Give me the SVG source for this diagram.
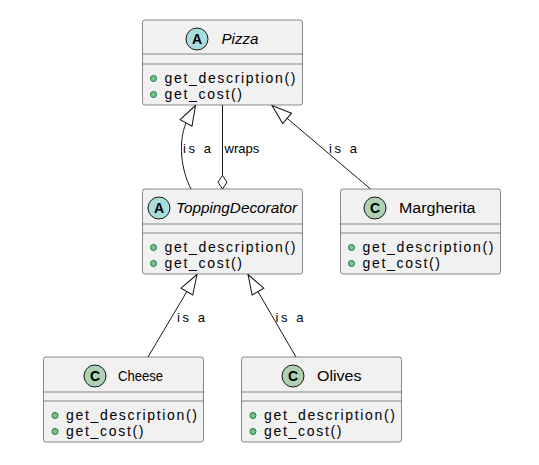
<svg xmlns="http://www.w3.org/2000/svg" width="539" height="465" viewBox="0 0 539 465">
<style>
.box{fill:#F1F1F1;stroke:#181818;stroke-width:0.5;}
.sep{stroke:#181818;stroke-width:0.5;fill:none;}
.name{font-family:"Liberation Sans",Arial,sans-serif;font-size:14px;fill:#000;}
.it{font-style:italic;}
.mem{font-family:"Liberation Sans",Arial,sans-serif;font-size:14px;fill:#000;}
.lbl{font-family:"Liberation Sans",Arial,sans-serif;font-size:13px;fill:#000;}
.bul{fill:#84BE84;stroke:#038048;stroke-width:1;}
.ca{fill:#A9DCDF;stroke:#181818;stroke-width:1;}
.cc{fill:#ADD1B2;stroke:#181818;stroke-width:1;}
.ltr{font-family:"Liberation Sans",Arial,sans-serif;font-size:14px;font-weight:bold;fill:#000;}
.edge{stroke:#181818;stroke-width:1;fill:none;}
</style>
<defs>
<marker id="ext" markerUnits="userSpaceOnUse" markerWidth="24" markerHeight="20" viewBox="-21 -9 23 18" refX="0" refY="0" orient="auto">
<path d="M0,0 L-19,-6.5 L-19,6.5 Z" fill="#FFFFFF" stroke="#181818" stroke-width="1"/>
</marker>
</defs>

<g id="connectors">
<path class="edge" d="M191,189 C181,170 178,142 186,123 L195.5,105.5" marker-end="url(#ext)"/>
<line class="edge" x1="222.5" y1="105" x2="222.5" y2="175.5"/>
<polygon points="222.5,175.5 227,182.2 222.5,189 218,182.2" fill="#FFFFFF" stroke="#181818" stroke-width="1"/>
<line class="edge" x1="370.5" y1="189" x2="272" y2="105.5" marker-end="url(#ext)"/>
<line class="edge" x1="148" y1="357" x2="197" y2="274.5" marker-end="url(#ext)"/>
<line class="edge" x1="296" y1="357" x2="248" y2="274.5" marker-end="url(#ext)"/>
<text class="lbl" x="183" y="153" textLength="28" lengthAdjust="spacing">is  a</text>
<text class="lbl" x="224.5" y="153">wraps</text>
<text class="lbl" x="329" y="153" textLength="28" lengthAdjust="spacing">is  a</text>
<text class="lbl" x="177" y="322" textLength="28" lengthAdjust="spacing">is  a</text>
<text class="lbl" x="275.5" y="322" textLength="28" lengthAdjust="spacing">is  a</text>
</g>

<g id="Pizza">
<rect class="box" x="142.5" y="20" width="160" height="85" rx="2.5"/>
<line class="sep" x1="142.5" y1="54" x2="302.5" y2="54"/>
<line class="sep" x1="142.5" y1="64" x2="302.5" y2="64"/>
<circle class="ca" cx="197" cy="39" r="11"/>
<text class="ltr" x="197" y="44" text-anchor="middle">A</text>
<text class="name it" x="221.5" y="44" textLength="37" lengthAdjust="spacingAndGlyphs">Pizza</text>
<circle class="bul" cx="153.5" cy="78.5" r="3"/>
<text class="mem" x="164.5" y="83" textLength="131" lengthAdjust="spacing">get_description()</text>
<circle class="bul" cx="153.5" cy="94.5" r="3"/>
<text class="mem" x="164.5" y="99" textLength="77.5" lengthAdjust="spacing">get_cost()</text>
</g>

<g id="ToppingDecorator">
<rect class="box" x="142.5" y="189" width="160" height="85" rx="2.5"/>
<line class="sep" x1="142.5" y1="224" x2="302.5" y2="224"/>
<line class="sep" x1="142.5" y1="233" x2="302.5" y2="233"/>
<circle class="ca" cx="159" cy="208" r="11"/>
<text class="ltr" x="159" y="213" text-anchor="middle">A</text>
<text class="name it" x="176" y="213" textLength="121" lengthAdjust="spacingAndGlyphs">ToppingDecorator</text>
<circle class="bul" cx="153.5" cy="247.5" r="3"/>
<text class="mem" x="164.5" y="252" textLength="131" lengthAdjust="spacing">get_description()</text>
<circle class="bul" cx="153.5" cy="263.5" r="3"/>
<text class="mem" x="164.5" y="268" textLength="77.5" lengthAdjust="spacing">get_cost()</text>
</g>

<g id="Margherita">
<rect class="box" x="340.5" y="189" width="160" height="85" rx="2.5"/>
<line class="sep" x1="340.5" y1="224" x2="500.5" y2="224"/>
<line class="sep" x1="340.5" y1="233" x2="500.5" y2="233"/>
<circle class="cc" cx="375" cy="208" r="11"/>
<text class="ltr" x="375" y="213" text-anchor="middle">C</text>
<text class="name" x="399" y="213" textLength="76.5" lengthAdjust="spacingAndGlyphs">Margherita</text>
<circle class="bul" cx="351.5" cy="247.5" r="3"/>
<text class="mem" x="362.5" y="252" textLength="131" lengthAdjust="spacing">get_description()</text>
<circle class="bul" cx="351.5" cy="263.5" r="3"/>
<text class="mem" x="362.5" y="268" textLength="77.5" lengthAdjust="spacing">get_cost()</text>
</g>

<g id="Cheese">
<rect class="box" x="43.5" y="357" width="160" height="85" rx="2.5"/>
<line class="sep" x1="43.5" y1="392" x2="203.5" y2="392"/>
<line class="sep" x1="43.5" y1="401" x2="203.5" y2="401"/>
<circle class="cc" cx="95" cy="376" r="11"/>
<text class="ltr" x="95" y="381" text-anchor="middle">C</text>
<text class="name" x="118" y="381" textLength="45" lengthAdjust="spacingAndGlyphs">Cheese</text>
<circle class="bul" cx="55" cy="415.5" r="3"/>
<text class="mem" x="66" y="420" textLength="131" lengthAdjust="spacing">get_description()</text>
<circle class="bul" cx="55" cy="431.5" r="3"/>
<text class="mem" x="66" y="436" textLength="77.5" lengthAdjust="spacing">get_cost()</text>
</g>

<g id="Olives">
<rect class="box" x="241.5" y="357" width="160" height="85" rx="2.5"/>
<line class="sep" x1="241.5" y1="392" x2="401.5" y2="392"/>
<line class="sep" x1="241.5" y1="401" x2="401.5" y2="401"/>
<circle class="cc" cx="293" cy="376" r="11"/>
<text class="ltr" x="293" y="381" text-anchor="middle">C</text>
<text class="name" x="317" y="381" textLength="44.5" lengthAdjust="spacingAndGlyphs">Olives</text>
<circle class="bul" cx="253" cy="415.5" r="3"/>
<text class="mem" x="264" y="420" textLength="131" lengthAdjust="spacing">get_description()</text>
<circle class="bul" cx="253" cy="431.5" r="3"/>
<text class="mem" x="264" y="436" textLength="77.5" lengthAdjust="spacing">get_cost()</text>
</g>
</svg>
